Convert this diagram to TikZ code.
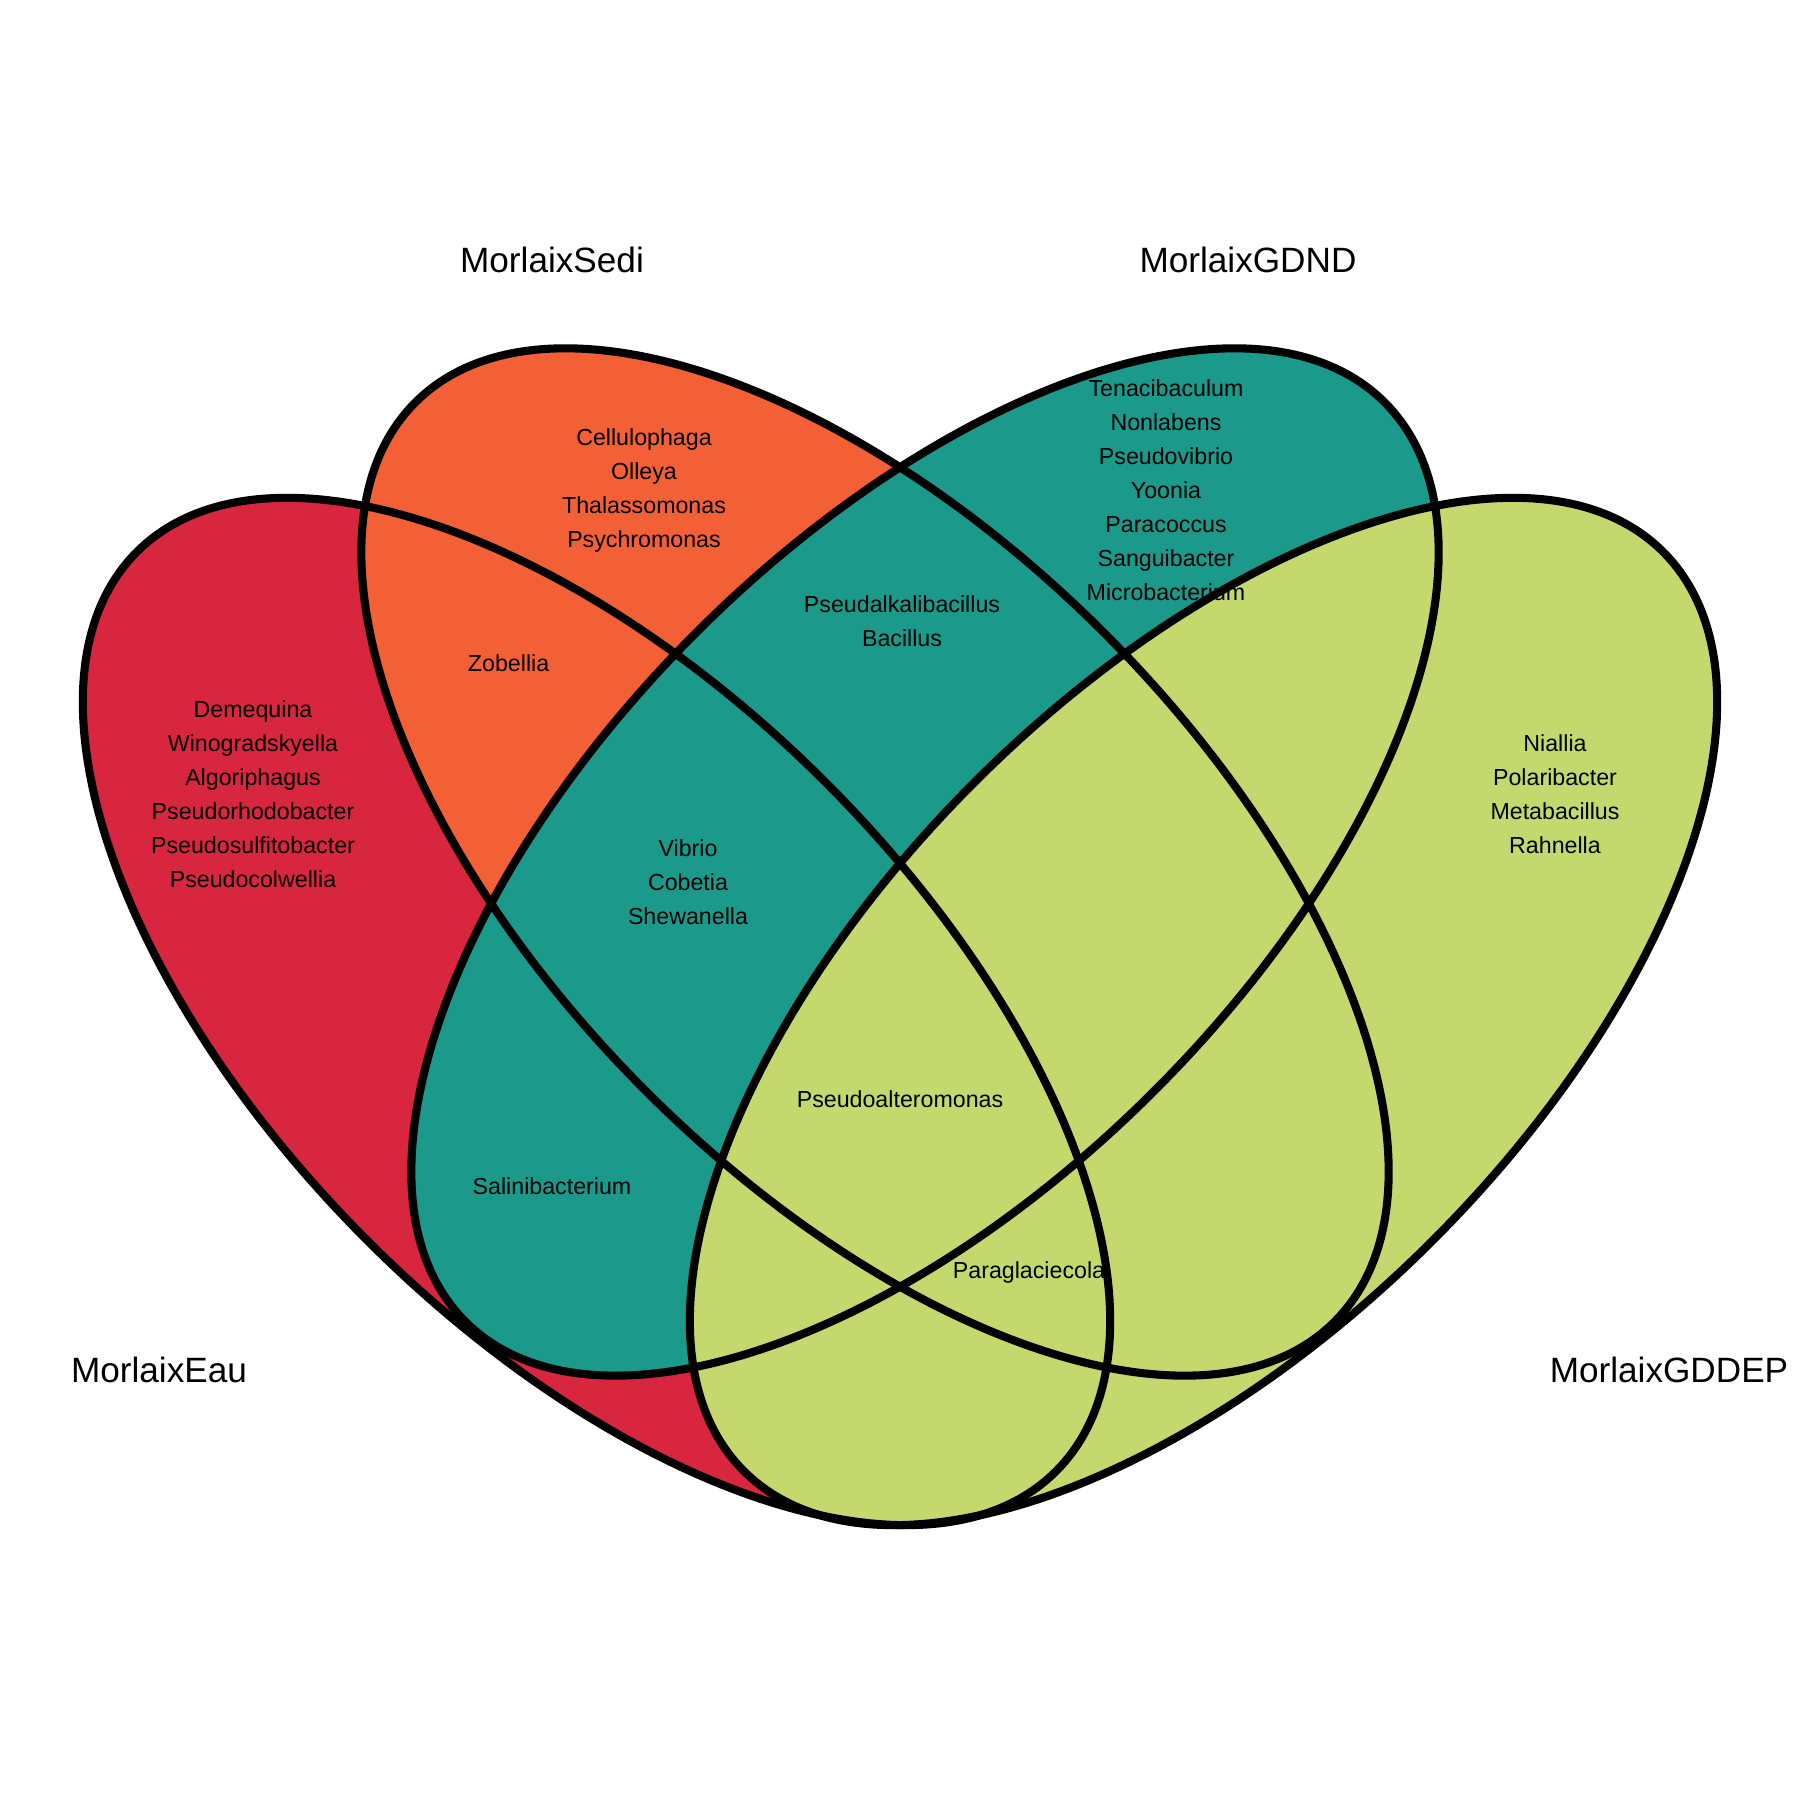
\documentclass[tikz,border=0pt]{standalone}
\usepackage{fontspec}
\setmainfont{Liberation Sans}
\definecolor{eaucol}{HTML}{D7263D}
\definecolor{sedicol}{HTML}{F46036}
\definecolor{gdndcol}{HTML}{1B998B}
\definecolor{gddepcol}{HTML}{C5D86D}
\begin{document}
\begin{tikzpicture}[x=0.01cm,y=0.01cm,
  outline/.style={draw=black,line width=2.3pt},
  cat/.style={font=\fontsize{10}{12}\selectfont, anchor=base, inner sep=0pt},
  genus/.style={font=\fontsize{6.6}{9.67}\selectfont, align=center, inner sep=0pt}]
\useasboundingbox (0,0) rectangle (1800,1800);
% ellipse centres
\coordinate (cEau) at (596.5,788.5);
\coordinate (cSedi) at (875,938);
\coordinate (cGDND) at (925,938);
\coordinate (cGDDEP) at (1203.5,788.5);
% fills
\fill[eaucol, rotate around={-45:(cEau)}] (cEau) ellipse [x radius=650, y radius=324];
\fill[sedicol, rotate around={-45:(cSedi)}] (cSedi) ellipse [x radius=650, y radius=324];
\fill[gdndcol, rotate around={45:(cGDND)}] (cGDND) ellipse [x radius=650, y radius=324];
\fill[gddepcol, rotate around={45:(cGDDEP)}] (cGDDEP) ellipse [x radius=650, y radius=324];
% outlines
\draw[outline, rotate around={-45:(cEau)}] (cEau) ellipse [x radius=650, y radius=324];
\draw[outline, rotate around={-45:(cSedi)}] (cSedi) ellipse [x radius=650, y radius=324];
\draw[outline, rotate around={45:(cGDND)}] (cGDND) ellipse [x radius=650, y radius=324];
\draw[outline, rotate around={45:(cGDDEP)}] (cGDDEP) ellipse [x radius=650, y radius=324];
% category labels
\node[cat] (lSedi) at (552,1527) {MorlaixSedi};
\node[cat] (lGDND) at (1248,1527) {MorlaixGDND};
\node[cat] (lEau) at (159,417) {MorlaixEau};
\node[cat] (lGDDEP) at (1669,417) {MorlaixGDDEP};
% region contents
\node[genus] (rEau) at (253,1006) {Demequina\\Winogradskyella\\Algoriphagus\\Pseudorhodobacter\\Pseudosulfitobacter\\Pseudocolwellia};
\node[genus] (rSedi) at (644,1309) {Cellulophaga\\Olleya\\Thalassomonas\\Psychromonas};
\node[genus] (rGDND) at (1166,1309.5) {Tenacibaculum\\Nonlabens\\Pseudovibrio\\Yoonia\\Paracoccus\\Sanguibacter\\Microbacterium};
\node[genus] (rGDDEP) at (1555,1006) {Niallia\\Polaribacter\\Metabacillus\\Rahnella};
\node[genus] (rES) at (508.6,1136.5) {Zobellia};
\node[genus] (rSG) at (902,1178.5) {Pseudalkalibacillus\\Bacillus};
\node[genus] (rESG) at (688,918) {Vibrio\\Cobetia\\Shewanella};
\node[genus] (rEG) at (552,614) {Salinibacterium};
\node[genus] (rAll) at (900,701) {Pseudoalteromonas};
\node[genus] (rESD) at (1029,527.3) {Paraglaciecola};
\end{tikzpicture}
\end{document}
